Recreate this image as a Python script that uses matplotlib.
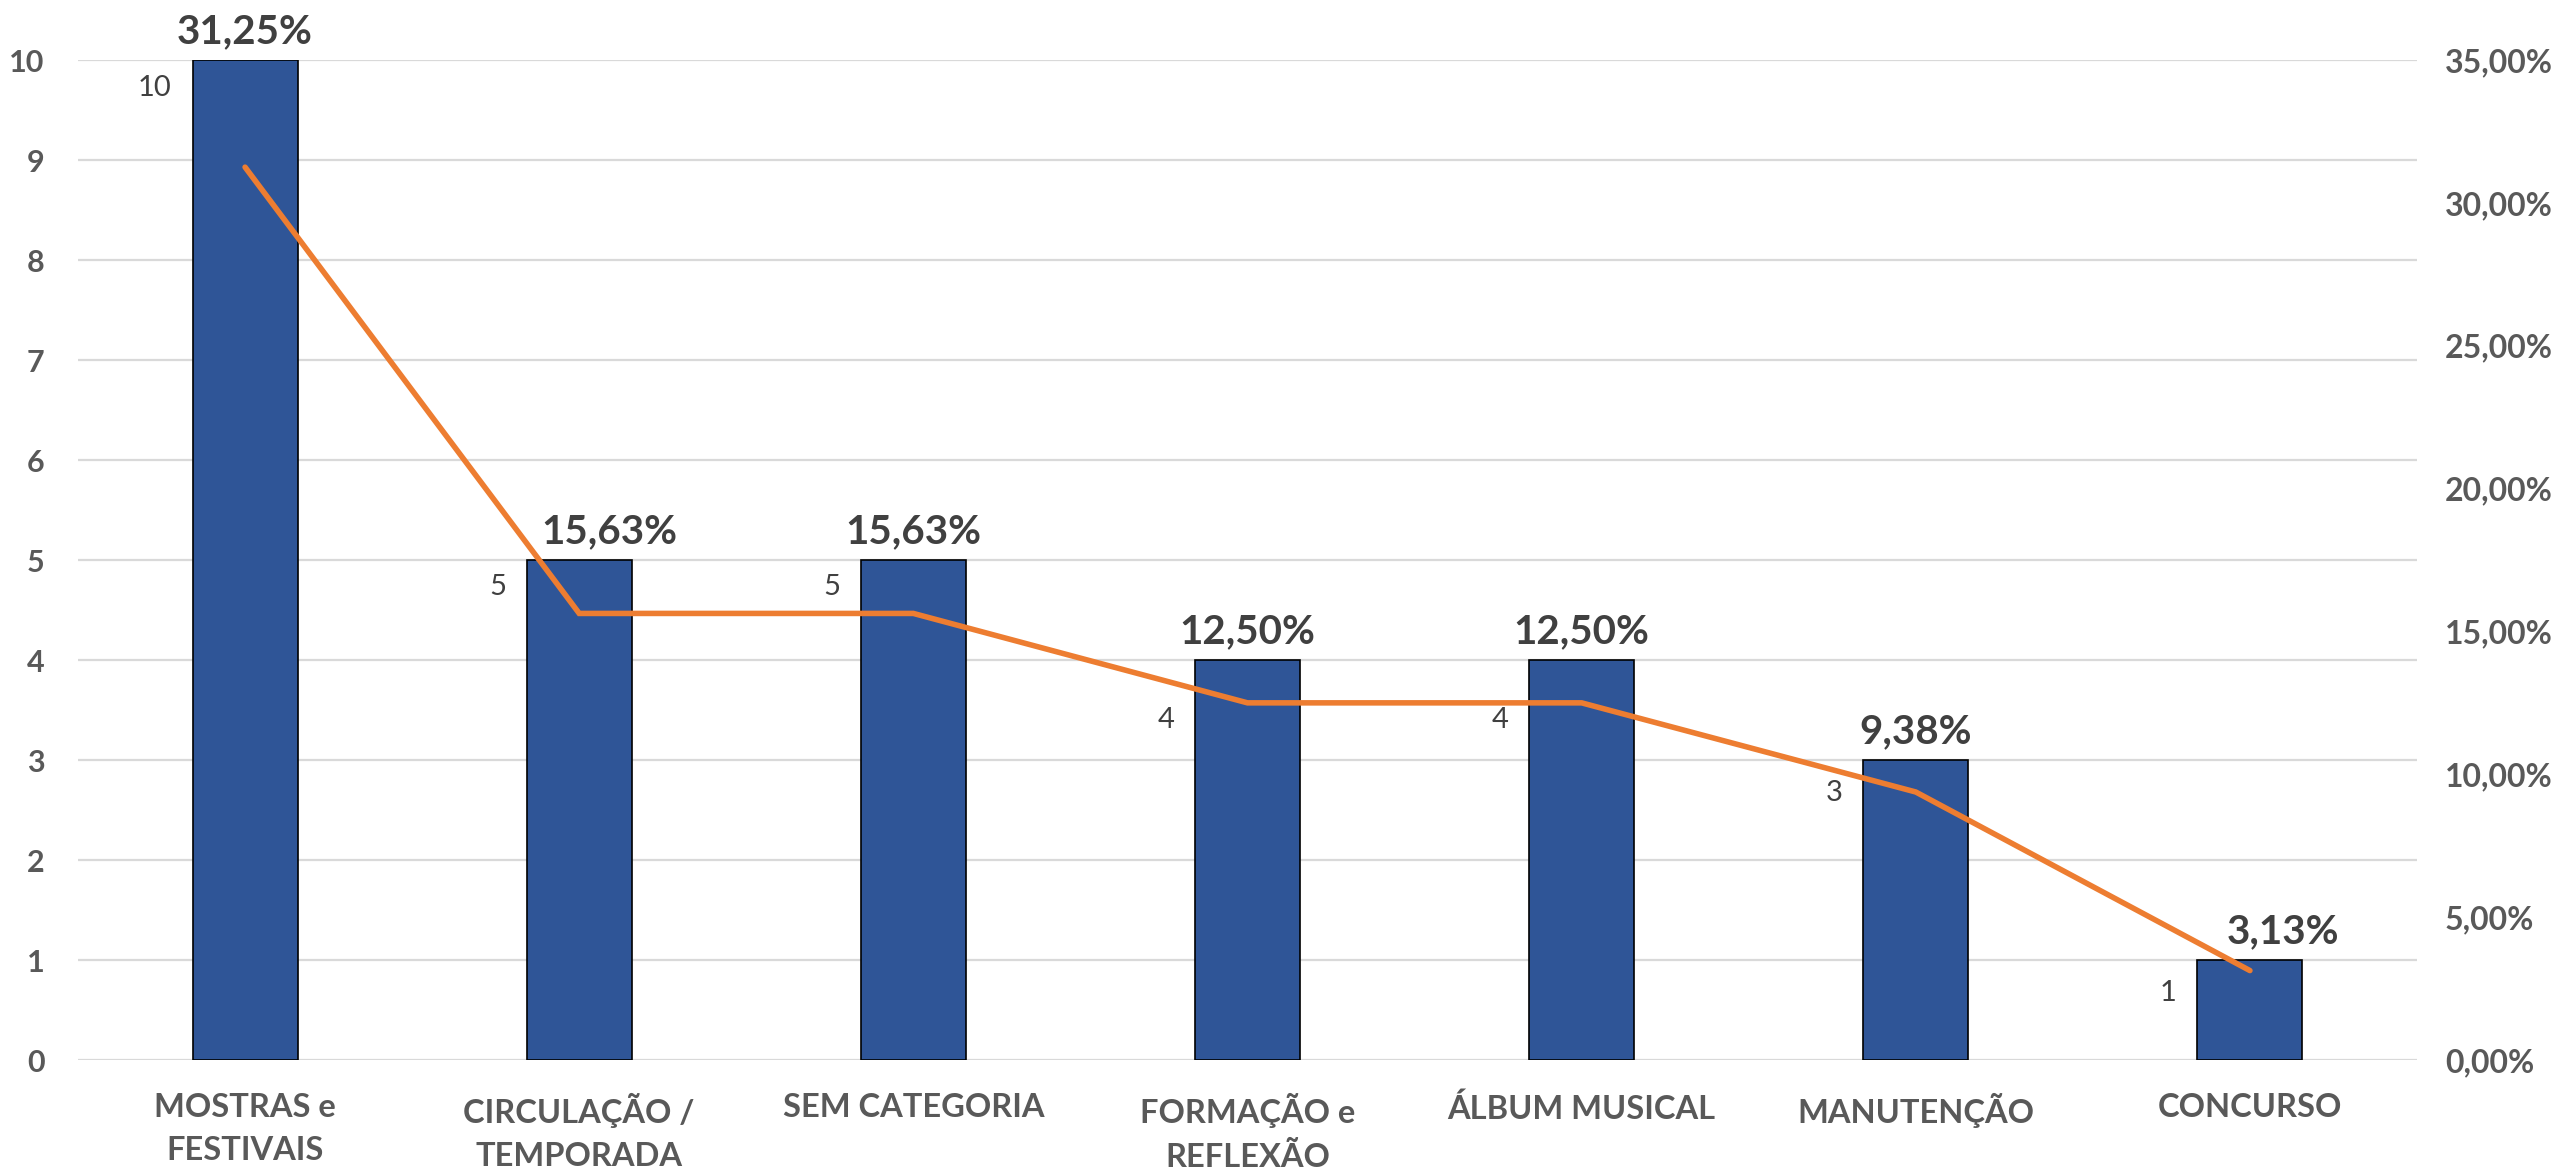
import matplotlib
matplotlib.use("Agg")
import matplotlib.pyplot as plt
from matplotlib.ticker import FuncFormatter, MultipleLocator

categories = ["MOSTRAS e\nFESTIVAIS", "CIRCULAÇÃO /\nTEMPORADA", "SEM CATEGORIA",
              "FORMAÇÃO e\nREFLEXÃO", "ÁLBUM MUSICAL", "MANUTENÇÃO", "CONCURSO"]
counts = [10, 5, 5, 4, 4, 3, 1]
percents = [31.25, 15.63, 15.63, 12.50, 12.50, 9.38, 3.13]

# label placement (layout only, in pixels)
pct_label_dx = [0, 30, 0, 0, 0, 0, 33]
count_label_dy = [28, 27, 27, 60, 60, 33, 33]

plt.rcParams['font.family'] = ['Lato', 'DejaVu Sans']

BAR = "#2F5597"
LINE = "#ED7D31"
GRID = "#D9D9D9"
TICK = "#595959"
LAB = "#404040"
PX = 0.72  # points per pixel at 100 dpi

fig = plt.figure(figsize=(25.52, 11.70), dpi=100)
ax = fig.add_axes([78/2552, 110/1170, (2417-78)/2552, 1000/1170])
ax2 = ax.twinx()

x = list(range(len(categories)))
ax.bar(x, counts, width=0.314, color=BAR, edgecolor="black", linewidth=1.2, zorder=3)
ax.set_xlim(-0.5, len(categories) - 0.5)
ax.set_ylim(0, 10)
ax.yaxis.set_major_locator(MultipleLocator(1))
ax.grid(axis='y', color=GRID, linewidth=1.6, zorder=0)
ax.set_axisbelow(True)
for s in ax.spines.values():
    s.set_visible(False)
for s in ax2.spines.values():
    s.set_visible(False)

ax.set_xticks(x)
ax.set_xticklabels(categories, fontsize=23.5, fontweight='bold', color=TICK, linespacing=1.55)
ax.tick_params(axis='x', length=0, pad=24)
ax.tick_params(axis='y', length=0, pad=24, labelsize=22, labelcolor=TICK)
for t in ax.get_yticklabels():
    t.set_fontweight('bold')

ax2.plot(x, [p / 100 for p in percents], color=LINE, linewidth=4, zorder=4,
         solid_capstyle='round', solid_joinstyle='miter')
ax2.set_ylim(0, 0.35)
ax2.yaxis.set_major_locator(MultipleLocator(0.05))
ax2.yaxis.set_major_formatter(FuncFormatter(lambda v, p: f"{v*100:.2f}".replace('.', ',') + '%'))
ax2.tick_params(axis='y', length=0, pad=20, labelsize=23, labelcolor=TICK)
for t in ax2.get_yticklabels():
    t.set_fontweight('bold')

ax.set_zorder(1)
ax2.set_zorder(2)
ax2.patch.set_visible(False)

for xi, c, p, dx, dy in zip(x, counts, percents, pct_label_dx, count_label_dy):
    ax.annotate(f"{p:.2f}".replace('.', ',') + '%', xy=(xi, c), xytext=(dx * PX, 7),
                textcoords='offset points', ha='center', va='bottom',
                fontsize=29, fontweight='bold', color=LAB)
    ax.annotate(str(c), xy=(xi - 0.157, c), xytext=(-15, -dy * PX),
                textcoords='offset points', ha='right', va='center',
                fontsize=21, color=LAB)

fig.savefig("out.png", dpi=100)
